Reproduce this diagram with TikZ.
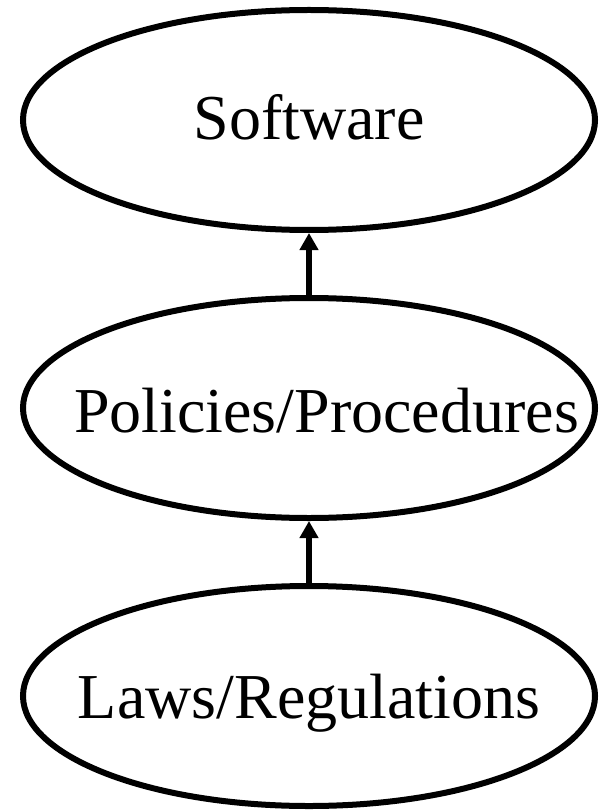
\documentclass[tikz,border=0pt]{standalone}
\usepackage{fontspec}
\setmainfont{Liberation Serif}
\usetikzlibrary{shapes.geometric,arrows.meta}
\begin{document}
\begin{tikzpicture}[x=1pt,y=-1pt,
  oval/.style={ellipse, draw=black, line width=6pt, minimum width=572pt, minimum height=220pt, inner sep=0pt, text depth=0pt, font=\fontsize{64}{72}\selectfont},
  link/.style={line width=5.5pt, -{Triangle[length=17pt,width=18pt]}}]
\useasboundingbox (0,0) rectangle (600,810);
\node[oval, text height=40pt] (sw) at (309,120) {\makebox[0pt]{Software}};
\node[oval, text height=48pt] (pp) at (309,408) {\makebox[0pt]{\hspace*{35pt}Policies/Procedures}};
\node[oval, text height=44pt] (lr) at (309,696) {\makebox[0pt]{Laws/Regulations}};
\draw[link] (pp) -- (sw);
\draw[link] (lr) -- (pp);
\end{tikzpicture}
\end{document}
